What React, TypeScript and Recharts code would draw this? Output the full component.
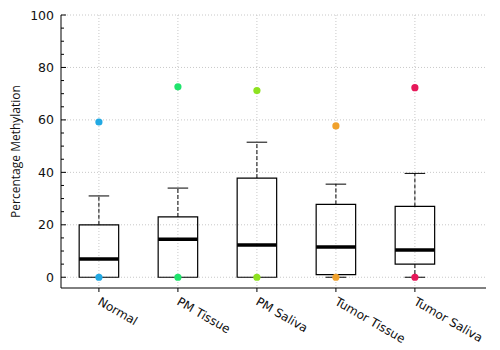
import React from 'react';
import {
  ComposedChart,
  XAxis,
  YAxis,
  CartesianGrid,
  Scatter,
  ReferenceArea,
  ReferenceLine,
} from 'recharts';

const categories = ['Normal', 'PM Tissue', 'PM Saliva', 'Tumor Tissue', 'Tumor Saliva'];
const q1 = [0, 0, 0, 1, 5];
const medians = [7, 14.5, 12.3, 11.5, 10.4];
const q3 = [20, 23, 37.8, 27.8, 27];
const whiskerLow = [0, 0, 0, 0, 0];
const whiskerHigh = [31, 34, 51.5, 35.5, 39.6];
const outliers = [59.2, 72.6, 71.2, 57.7, 72.3];
const lowPoints = [0, 0, 0, 0, 0];
const dotColors = ['#22a9e3', '#1fe46c', '#8ee220', '#f0a12c', '#e6185a'];
const yTicks = [0, 5, 10, 15, 20, 25, 30, 35, 40, 45, 50, 55, 60, 65, 70, 75, 80, 85, 90, 95, 100];
const yLabels = [0, 20, 40, 60, 80, 100];

const HALF = 0.25;
const CAP = 0.13;

const YTick = (props: any) => {
  const { x, y, payload } = props;
  const major = yLabels.includes(payload.value);
  return (
    <g>
      <line x1={x} x2={x + (major ? 5 : 3)} y1={y} y2={y} stroke="#000" strokeWidth={1} />
      {major && (
        <text x={x - 7} y={y} dy={4.5} textAnchor="end" fontSize={12.5} fontFamily="DejaVu Sans" fill="#111">
          {payload.value}
        </text>
      )}
    </g>
  );
};

const XTick = (props: any) => {
  const { x, y, payload } = props;
  const tx = x - 2;
  const ty = y + 16;
  return (
    <g>
      <line x1={x} x2={x} y1={y} y2={y + 4} stroke="#000" strokeWidth={1} />
      <text
        x={tx}
        y={ty}
        transform={`rotate(30, ${tx}, ${ty})`}
        textAnchor="start"
        fontSize={12}
        fontFamily="DejaVu Sans"
        fill="#111"
      >
        {categories[payload.value - 1]}
      </text>
    </g>
  );
};

export default function App() {
  return (
    <div style={{ position: 'absolute', left: 0, top: 0, background: '#fff' }}>
      <ComposedChart
        width={500}
        height={350}
        margin={{ top: 15, right: 14, bottom: 0, left: 0 }}
      >
        <CartesianGrid
          stroke="#c8c8c8"
          strokeDasharray="1 2"
          horizontalValues={yLabels}
          verticalValues={[1, 2, 3, 4, 5]}
        />
        <XAxis
          type="number"
          dataKey="x"
          domain={[0.52, 5.9]}
          ticks={[1, 2, 3, 4, 5]}
          allowDataOverflow
          height={62}
          stroke="#000"
          tickLine={false}
          tickSize={0}
          tickMargin={0}
          tick={<XTick />}
          interval={0}
        />
        <YAxis
          type="number"
          dataKey="y"
          domain={[-4.1, 100]}
          ticks={yTicks}
          allowDataOverflow
          width={61}
          stroke="#000"
          tickLine={false}
          tickSize={0}
          tickMargin={0}
          tick={<YTick />}
          interval={0}
          label={{
            value: 'Percentage Methylation',
            angle: -90,
            position: 'insideLeft',
            offset: 16,
            style: { textAnchor: 'middle', fontSize: 12, fontFamily: 'Open Sans', fill: '#111' },
          }}
        />
        {categories.map((c, i) => {
          const x = i + 1;
          return (
            <React.Fragment key={c}>
              <ReferenceLine
                segment={[{ x, y: q3[i] }, { x, y: whiskerHigh[i] }]}
                stroke="#000"
                strokeDasharray="4 2"
              />
              <ReferenceLine
                segment={[{ x: x - CAP, y: whiskerHigh[i] }, { x: x + CAP, y: whiskerHigh[i] }]}
                stroke="#000"
              />
              {q1[i] > whiskerLow[i] && (
                <ReferenceLine
                  segment={[{ x, y: q1[i] }, { x, y: whiskerLow[i] }]}
                  stroke="#000"
                  strokeDasharray="4 2"
                />
              )}
              {q1[i] > whiskerLow[i] && (
                <ReferenceLine
                  segment={[{ x: x - CAP, y: whiskerLow[i] }, { x: x + CAP, y: whiskerLow[i] }]}
                  stroke="#000"
                />
              )}
              <ReferenceArea
                x1={x - HALF}
                x2={x + HALF}
                y1={q1[i]}
                y2={q3[i]}
                fill="none"
                fillOpacity={0}
                stroke="#000"
                strokeWidth={1.2}
              />
              <ReferenceLine
                segment={[{ x: x - HALF, y: medians[i] }, { x: x + HALF, y: medians[i] }]}
                stroke="#000"
                strokeWidth={3.5}
              />
            </React.Fragment>
          );
        })}
        {categories.map((c, i) => (
          <Scatter
            key={`pts-${c}`}
            data={[
              { x: i + 1, y: lowPoints[i] },
              { x: i + 1, y: outliers[i] },
            ]}
            fill={dotColors[i]}
            shape={(p: any) => <circle cx={p.cx} cy={p.cy} r={3.6} fill={dotColors[i]} />}
            isAnimationActive={false}
          />
        ))}
      </ComposedChart>
    </div>
  );
}
